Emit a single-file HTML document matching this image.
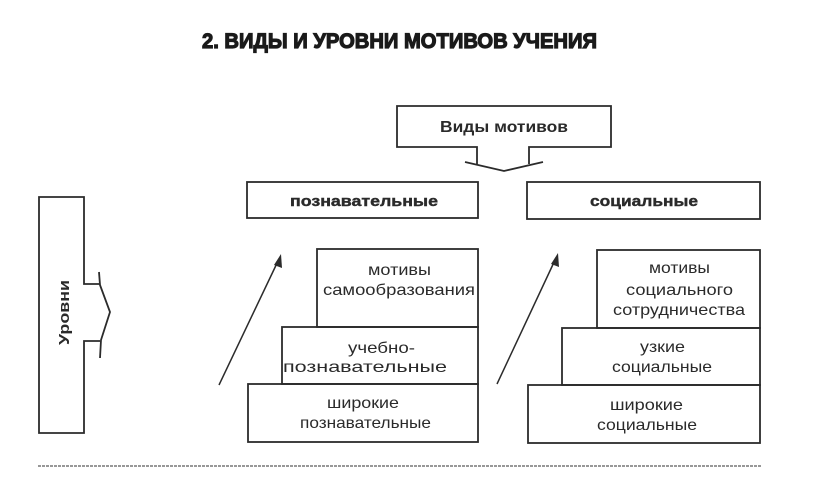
<!DOCTYPE html>
<html><head><meta charset="utf-8"><style>
html,body{margin:0;padding:0;background:#fff;width:816px;height:497px;overflow:hidden}
svg{display:block}
text{font-family:"Liberation Sans","DejaVu Sans",sans-serif;fill:#2a2a2a}
.b{font-weight:bold}
</style></head><body>
<svg width="816" height="497" viewBox="0 0 816 497" xmlns="http://www.w3.org/2000/svg">
<g fill="none" stroke="#2b2b2b" stroke-width="1.8" stroke-linejoin="miter">
<!-- Виды мотивов box with protrusion -->
<path d="M477,164 V147 H397 V106 H611 V147 H529 V164"/>
<path d="M465,162 L504,171 L543,162"/>
<!-- header boxes -->
<rect x="247" y="182" width="231" height="36"/>
<rect x="527" y="182" width="233" height="37"/>
<!-- Уровни box -->
<path d="M100,284 H84 V197 H39 V433 H84 V341 H100"/>
<path d="M99,272 L100,285 L110,312 L101,340 L100,358"/>
<!-- left stack -->
<rect x="317" y="249" width="161" height="78"/>
<rect x="282" y="327" width="196" height="57"/>
<rect x="248" y="384" width="230" height="58"/>
<!-- right stack -->
<rect x="597" y="250" width="163" height="78"/>
<rect x="562" y="328" width="198" height="57"/>
<rect x="528" y="385" width="232" height="58"/>
<!-- arrows -->
<line x1="219" y1="385" x2="279" y2="259" stroke-width="1.5"/>
<line x1="497" y1="384" x2="556" y2="258" stroke-width="1.5"/>
</g>
<polygon points="281,254 282,268 274,265" fill="#2b2b2b"/>
<polygon points="558,253 559,267 551,264" fill="#2b2b2b"/>
<line x1="38" y1="466" x2="762" y2="466" stroke="#8a8a8a" stroke-width="1.8" stroke-dasharray="3,1"/>

<!-- title -->
<text x="202" y="48" class="b" font-size="21" textLength="395" lengthAdjust="spacingAndGlyphs" stroke="#1a1a1a" stroke-width="1.2" style="fill:#1a1a1a">2. ВИДЫ И УРОВНИ МОТИВОВ УЧЕНИЯ</text>

<text x="440" y="132" class="b" font-size="16" textLength="128" lengthAdjust="spacingAndGlyphs">Виды мотивов</text>
<text x="290" y="206" class="b" font-size="15" textLength="148" lengthAdjust="spacingAndGlyphs" stroke="#2a2a2a" stroke-width="0.4">познавательные</text>
<text x="590" y="206" class="b" font-size="15" textLength="108" lengthAdjust="spacingAndGlyphs" stroke="#2a2a2a" stroke-width="0.4">социальные</text>

<text transform="translate(69,345) rotate(-90)" class="b" font-size="15" textLength="65" lengthAdjust="spacingAndGlyphs">Уровни</text>

<!-- left stack text -->
<g font-size="16">
<text x="368" y="275" textLength="63" lengthAdjust="spacingAndGlyphs">мотивы</text>
<text x="323" y="295" textLength="152" lengthAdjust="spacingAndGlyphs">самообразования</text>
<text x="348" y="353" textLength="67" lengthAdjust="spacingAndGlyphs">учебно-</text>
<text x="283" y="372" textLength="164" lengthAdjust="spacingAndGlyphs">познавательные</text>
<text x="327" y="408" textLength="72" lengthAdjust="spacingAndGlyphs">широкие</text>
<text x="300" y="428" textLength="131" lengthAdjust="spacingAndGlyphs">познавательные</text>
</g>
<!-- right stack text -->
<g font-size="16">
<text x="649" y="273" textLength="61" lengthAdjust="spacingAndGlyphs">мотивы</text>
<text x="626" y="295" textLength="107" lengthAdjust="spacingAndGlyphs">социального</text>
<text x="613" y="315" textLength="132" lengthAdjust="spacingAndGlyphs">сотрудничества</text>
<text x="640" y="352" textLength="45" lengthAdjust="spacingAndGlyphs">узкие</text>
<text x="612" y="372" textLength="100" lengthAdjust="spacingAndGlyphs">социальные</text>
<text x="610" y="410" textLength="73" lengthAdjust="spacingAndGlyphs">широкие</text>
<text x="597" y="430" textLength="100" lengthAdjust="spacingAndGlyphs">социальные</text>
</g>
</svg>
</body></html>
